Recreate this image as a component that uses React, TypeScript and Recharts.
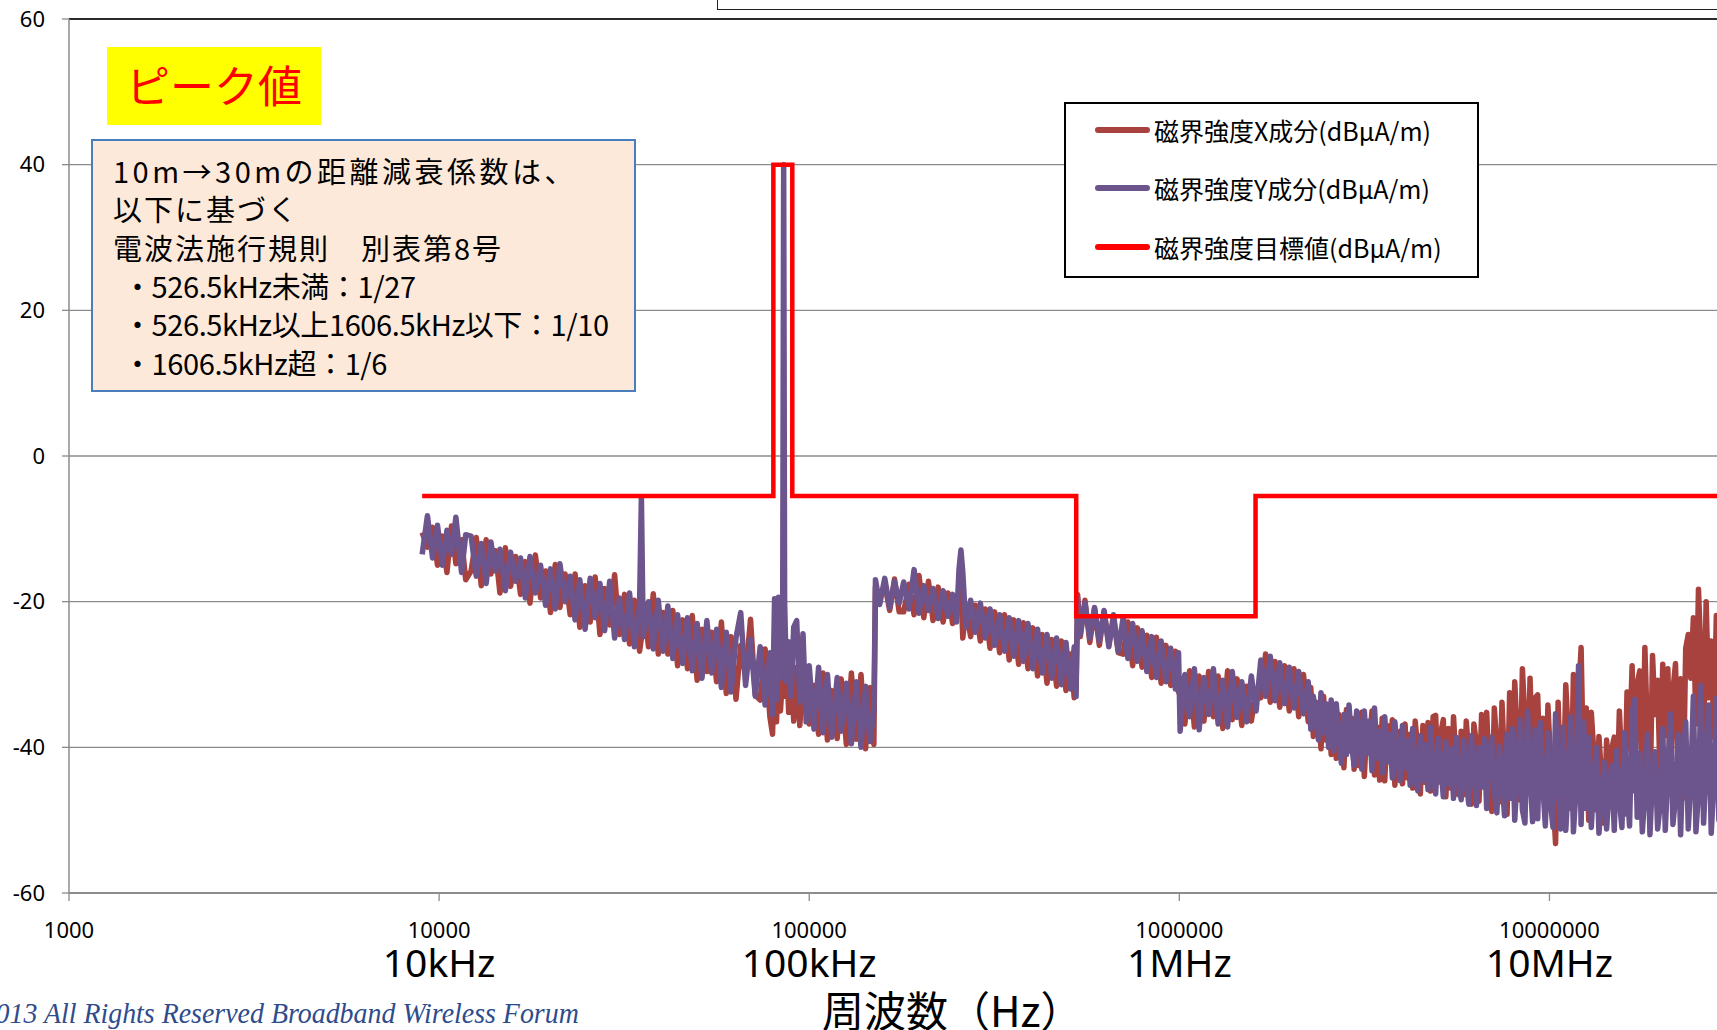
import React from 'react'
import { LineChart, Line, XAxis, YAxis, CartesianGrid, Legend, ReferenceLine } from 'recharts'

// measured frequencies (kHz)
const freqKHz = [
  9.0, 9.3, 9.6, 9.9, 10.2, 10.5, 10.8, 11.1, 11.5, 11.8,
  12.2, 12.6, 13.0, 13.4, 13.8, 14.2, 14.6, 15.1, 15.6, 16.1,
  16.6, 17.1, 17.6, 18.2, 18.8, 19.4, 20.0, 20.6, 21.2, 21.9,
  22.6, 23.3, 24.0, 24.8, 25.6, 26.4, 27.2, 28.0, 28.9, 29.8,
  30.7, 31.7, 32.7, 33.7, 34.8, 35.2, 35.6, 36.8, 37.9, 39.1,
  40.3, 41.5, 42.8, 44.1, 45.5, 46.9, 48.3, 49.8, 51.3, 52.9,
  54.5, 56.2, 57.9, 59.7, 61.5, 63.4, 65.3, 67.3, 69.4, 71.5,
  73.7, 76.0, 78.3, 79.6, 80.6, 81.6, 82.6, 83.6, 84.8, 85.3,
  85.8, 86.8, 88.0, 89.3, 90.8, 92.5, 94.3, 96.2, 98.1, 100,
  103, 106, 109, 112, 115, 119, 122, 126, 130, 134,
  138, 142, 146, 149.5, 151, 155, 160, 165, 170, 175,
  180, 186, 192, 198, 204, 210, 216, 223, 230, 237,
  244, 250, 254, 257, 260, 265, 273, 281, 290, 299,
  308, 317, 327, 337, 347, 357, 368, 379, 390, 402,
  414, 426, 439, 452, 466, 480, 494, 508, 520, 526,
  531, 540, 556, 573, 590, 608, 626, 645, 664, 684,
  705, 726, 748, 770, 793, 817, 842, 867, 893, 920,
  948, 976, 995, 1005, 1035, 1066, 1098, 1131, 1165, 1200,
  1236, 1273, 1311, 1350, 1390, 1432, 1475, 1519, 1565, 1612,
  1660, 1710, 1761, 1814, 1868, 1924, 1982, 2041, 2102, 2165,
  2230, 2266, 2302, 2339, 2376, 2414, 2453, 2492, 2532, 2572,
  2613, 2655, 2697, 2740, 2784, 2829, 2874, 2920, 2967, 3014,
  3062, 3111, 3161, 3212, 3263, 3315, 3368, 3422, 3477, 3533,
  3589, 3646, 3704, 3763, 3823, 3884, 3946, 4009, 4073, 4138,
  4204, 4271, 4339, 4408, 4479, 4551, 4624, 4698, 4773, 4849,
  4927, 5006, 5086, 5167, 5250, 5334, 5419, 5506, 5594, 5683,
  5774, 5866, 5960, 6055, 6152, 6250, 6350, 6452, 6555, 6660,
  6767, 6875, 6985, 7097, 7211, 7326, 7443, 7562, 7683, 7806,
  7931, 8058, 8187, 8318, 8451, 8586, 8723, 8863, 9005, 9149,
  9295, 9444, 9595, 9749, 9905, 10063, 10224, 10388, 10554, 10723,
  10895, 11069, 11246, 11426, 11609, 11795, 11984, 12176, 12371, 12569,
  12770, 12974, 13182, 13393, 13607, 13825, 14046, 14271, 14499, 14731,
  14967, 15206, 15449, 15696, 15947, 16202, 16461, 16724, 16992, 17264,
  17540, 17821, 18106, 18396, 18690, 18989, 19293, 19602, 19916, 20235,
  20559, 20888, 21222, 21562, 21907, 22258, 22614, 22976, 23344, 23718,
  24097, 24483, 24875, 25273, 25677, 26088, 26505, 26929, 27360, 27798,
  28243, 28695, 29154,
]

// X component (dBuA/m)
const fieldX = [
  -10.5, -12.5, -9.8, -15, -11, -16, -9.6, -14.8, -11.5, -17,
  -15.8, -11.2, -17.8, -11.5, -16.2, -13, -18.8, -12.6, -17.9, -13.8,
  -19, -14.5, -20.2, -13.6, -19.5, -15.8, -21.5, -14.9, -20.8, -16.2,
  -21.8, -16.2, -23.5, -17.8, -22.8, -16.6, -24.5, -18.2, -23.2, -16.3,
  -24.5, -19, -25.8, -19.8, -26.8, -25, -20.2, -26.2, -18.9, -27.2,
  -21.5, -27.2, -21.2, -28.8, -22.5, -29.2, -21.9, -30.8, -23.8, -29.6,
  -24.2, -31, -22.8, -32.6, -24.8, -33.4, -26, -30.2, -22.4, -32.8,
  -33.5, -26.5, -35.8, -38.2, -29, -36.5, -28.2, -35, -30, -29,
  -33, -27.5, -35.2, -28.2, -36.4, -29, -37, -30.5, -34.2, -36.8,
  -31.5, -38.2, -29.8, -39, -32.2, -38.8, -30.6, -39.6, -29.8, -38.9,
  -30, -40.2, -31.8, -39.6, -18, -19.6, -17.6, -21.2, -16.9, -21.4,
  -21.4, -17.6, -21.8, -16.4, -22.2, -17.2, -22.6, -18, -22.8, -18.8,
  -23, -19.5, -20, -18.6, -25, -21, -24.8, -20.5, -25.4, -21,
  -26.4, -21.4, -27, -21.8, -28, -22.5, -28.6, -22.9, -29.2, -23.6,
  -30.2, -24.5, -31.2, -25.2, -31.6, -25.4, -32.2, -27.2, -33.2, -32,
  -19, -24.8, -19.8, -25.6, -21, -26, -21.4, -25.8, -22.4, -27,
  -27.2, -22.8, -28.8, -23.6, -29, -24.6, -30.4, -24.9, -31.2, -26,
  -31.5, -26.8, -32.4, -30.5, -36.8, -29.5, -37.2, -30.2, -36.4, -29.6,
  -35.8, -30.2, -37.4, -29.5, -36.2, -30.6, -37, -31.6, -36.4, -32.2,
  -33.2, -27.2, -33.8, -28.2, -34.5, -28.8, -35, -29.2, -35.8, -30,
  -36.5, -31.8, -38.5, -33.8, -35, -40.2, -33, -39, -35.2, -41,
  -34.5, -41.5, -35.5, -37, -42.8, -34.8, -40.5, -36, -43, -35.4,
  -42.5, -35.2, -44, -36.8, -39.5, -35, -43.8, -37.2, -44.5, -36,
  -44.6, -37, -41.8, -36.2, -45.2, -38.6, -37.8, -45, -36.8, -44.2,
  -38.2, -45.6, -36.4, -40.5, -46.4, -37, -44.8, -36.6, -46, -35.8,
  -35.6, -44.8, -38, -36.2, -46.8, -37.4, -45.6, -35.8, -42.5, -46.5,
  -37.8, -46.5, -36.4, -41, -47.8, -36.8, -39.5, -47.4, -35.5, -44,
  -35.2, -43.6, -48.8, -34.6, -40, -47.5, -33.8, -42.2, -49.2, -32.5,
  -44.8, -31, -38.6, -47.2, -29.2, -36.4, -46, -30.5, -41.8, -33.2,
  -32.8, -44.6, -36, -48, -34.2, -41.5, -46.8, -53.2, -33.8, -45,
  -46.6, -31.4, -38.5, -48.4, -30, -43.6, -33.5, -26.3, -44, -34.6,
  -50, -35.2, -40.8, -48.6, -38.5, -44, -50.4, -39, -46.2, -40.2,
  -38.6, -48, -35, -42.6, -49.2, -32.4, -40.2, -28.8, -46, -31.2,
  -29.5, -44.6, -26.3, -38, -47.8, -27.4, -35.5, -30.8, -45, -28.6,
  -38.4, -29.2, -46, -32.2, -28.5, -43.4, -30.6, -47, -26.4, -24.5,
  -30.5, -22.2, -36.8, -18.3, -27.6, -40, -20, -33.2, -25.4, -38.6,
  -21.9, -34, -26,
]

// Y component (dBuA/m)
const fieldY = [
  -13.5, -8.2, -14, -9.5, -15, -10.2, -13.5, -8.4, -16, -10.8,
  -11, -16.5, -12, -17.5, -11.8, -15.8, -12.8, -18.5, -13.2, -17.2,
  -14, -19.5, -13.8, -18.8, -15, -20.5, -15.5, -21, -14.8, -20,
  -16.5, -22.5, -17, -23.8, -16.8, -22.2, -17.5, -24, -17.2, -25,
  -19.5, -25.2, -18.8, -26.2, -20.5, -5.6, -24.8, -20, -26.5, -19.8,
  -26.8, -20.6, -27.8, -21.8, -28.5, -22.2, -29.5, -23, -30.5, -22.6,
  -29.8, -23.8, -31.8, -24.2, -32.4, -25, -21.5, -31.5, -25.2, -33,
  -26.2, -34.2, -27, -35.5, -19.6, -33.5, -19.4, -30.5, -20, 40,
  -20, -31, -25.5, -33, -23.5, -22.6, -33.8, -24.4, -36.5, -28.8,
  -37.5, -29, -38, -30, -38.6, -30.4, -37.8, -31.2, -39.5, -31,
  -40, -31.6, -39.2, -35, -17, -20.4, -16.8, -20.8, -17.2, -20.2,
  -17.3, -21, -15.6, -21.6, -17.8, -21.2, -18.2, -22.3, -18.5, -22,
  -19, -22.8, -15.5, -12.9, -16, -23.5, -19.8, -24.2, -20.2, -25,
  -21, -26, -21.8, -26.8, -22.2, -27.5, -22.6, -28.2, -23, -29.2,
  -23.8, -29.8, -24.5, -30.5, -25, -31.4, -25.6, -32, -26.2, -33,
  -19.5, -24.5, -20.2, -25, -20.8, -25.4, -21.2, -26.2, -21.8, -26.8,
  -22.2, -27.8, -23, -28.2, -24, -29.6, -24.8, -30.4, -25.4, -31,
  -26.4, -32, -27, -37.8, -30, -35.8, -29.2, -37.6, -30.4, -35.5,
  -29.2, -36.8, -30.8, -37.2, -29.6, -35.9, -31, -36.5, -30.2, -35,
  -28, -33, -27.5, -33.6, -28.4, -34, -29, -34.6, -29.6, -35.4,
  -31, -37.5, -33, -36, -39, -32.5, -38, -34, -40, -33.5,
  -40.5, -34, -38.5, -42.2, -35.5, -41, -34.2, -39.5, -42.5, -35,
  -37.5, -43, -35, -40.8, -36.4, -43.2, -34.6, -41.5, -37.8, -43.5,
  -35.8, -42, -38.2, -44.2, -36.5, -41.2, -44.6, -37, -42.8, -39,
  -45.2, -37.4, -43, -46, -38.4, -44.5, -39.6, -45.8, -37.2, -43.6,
  -46.4, -38.8, -42.4, -46.8, -39.2, -45, -40.2, -47, -38.6, -44,
  -47.2, -39, -44.6, -47.8, -38.4, -43.2, -48, -40, -45.5, -38.8,
  -48.4, -41.2, -38.6, -46.2, -49, -39.8, -44.4, -49.4, -38.2, -47,
  -37.4, -50, -43.5, -36.2, -48.6, -50.4, -35, -44, -50.2, -37.6,
  -49.8, -36.6, -45.2, -50.8, -38, -47.6, -51, -35.4, -43, -51.2,
  -37.2, -51.4, -44.8, -35.8, -51.6, -46, -28.8, -50.6, -36.5, -48.4,
  -38.6, -51, -44.2, -40, -51.8, -47, -42, -51.2, -45.6, -42.5,
  -51.4, -40.4, -47.2, -51, -38, -45.4, -50.8, -35.2, -33.4, -49.6,
  -40.8, -51.6, -46.4, -38.2, -52, -44, -40.6, -51.2, -47.8, -37.4,
  -51.4, -43.2, -35.4, -50.6, -46.8, -38.2, -52, -41, -36.5, -51.2,
  -44.5, -33, -51.6, -46.2, -31.5, -50.4, -42.8, -34.2, -51.8, -45,
  -33.3, -50, -40,
]

// target limit (step line)
const targetKHz = [9, 80, 80, 90, 90, 526.5, 526.5, 1606.5, 1606.5, 30000]
const targetLevel = [-5.5, -5.5, 40, 40, -5.5, -5.5, -22, -22, -5.5, -5.5]

const freqTicks = [1000, 10000, 100000, 1000000, 10000000]
const freqUnitLabels = ['', '10kHz', '100kHz', '1MHz', '10MHz']
const levelTicks = [-60, -40, -20, 0, 20, 40, 60]

const seriesNames = ['磁界強度X成分(dBμA/m)', '磁界強度Y成分(dBμA/m)', '磁界強度目標値(dBμA/m)']

const noteHeader = ['10m→30mの距離減衰係数は、', '以下に基づく', '電波法施行規則　別表第8号']
const noteBullets = ['・526.5kHz未満：1/27', '・526.5kHz以上1606.5kHz以下：1/10', '・1606.5kHz超：1/6']

const noiseRows = freqKHz.map((f, i) => ({ f: f * 1000, x: fieldX[i], y: fieldY[i] }))
const targetRows = targetKHz.map((f, i) => ({ f: f * 1000, target: targetLevel[i] }))

const COLOR_X = '#A8423F'
const COLOR_Y = '#6C548D'
const COLOR_T = '#FF0000'
const GRID = '#8C8C8C'
const JP = "'Noto Sans CJK JP', 'Noto Sans', sans-serif"

const FreqTick = (props: any) => {
  const { x, y, payload } = props
  const unit = freqUnitLabels[freqTicks.indexOf(payload.value)]
  return (
    <g>
      <text x={x} y={y + 37} textAnchor="middle" fontSize={22} fill="#000" fontFamily="'Noto Sans', sans-serif">
        {payload.value}
      </text>
      {unit ? (
        <text x={x} y={y + 76} textAnchor="middle" fontSize={39} fill="#000" fontFamily="'Noto Sans', sans-serif">
          {unit}
        </text>
      ) : null}
    </g>
  )
}

const LegendBox = (props: any) => {
  const { payload } = props
  return (
    <div style={{ width: 415, height: 176, border: '2px solid #000', background: '#fff', boxSizing: 'border-box', position: 'relative' }}>
      {(payload || []).map((entry: any, i: number) => (
        <div key={i} style={{ position: 'absolute', left: 0, top: 26 + i * 58.3 - 20, height: 40, display: 'flex', alignItems: 'center' }}>
          <div style={{ marginLeft: 29, width: 55, height: 6, borderRadius: 3, background: entry.color }} />
          <span style={{ marginLeft: 4, fontSize: 25, fontFamily: JP, color: '#000', whiteSpace: 'nowrap' }}>{entry.value}</span>
        </div>
      ))}
    </div>
  )
}

const lineStyle = (cy: number): React.CSSProperties => ({
  position: 'absolute',
  top: cy - 20,
  height: 40,
  lineHeight: '40px',
  whiteSpace: 'nowrap',
})

const headerSpacing = [3.5, 2, 2]

export default function App() {
  return (
    <div style={{ position: 'absolute', left: 0, top: 0, width: 1717, height: 1030, overflow: 'hidden', background: '#fff', fontFamily: JP }}>
      <LineChart width={1717} height={1030} data={noiseRows} margin={{ top: 19, right: 0, bottom: 0, left: 0 }}>
        <CartesianGrid horizontal vertical={false} stroke={GRID} strokeWidth={1.3} />
        <XAxis
          dataKey="f"
          type="number"
          scale="log"
          domain={[1000, 28360000]}
          allowDataOverflow
          ticks={freqTicks}
          interval={0}
          height={137}
          tickSize={8}
          tickMargin={0}
          axisLine={{ stroke: GRID, strokeWidth: 2.2 }}
          tickLine={{ stroke: GRID, strokeWidth: 1.3 }}
          tick={<FreqTick />}
        />
        <YAxis
          type="number"
          domain={[-60, 60]}
          ticks={levelTicks}
          interval={0}
          width={69}
          tickSize={7}
          tickMargin={17}
          axisLine={{ stroke: GRID, strokeWidth: 1.5 }}
          tickLine={{ stroke: GRID, strokeWidth: 1.3 }}
          tick={{ fontSize: 22, fill: '#000', fontFamily: "'Noto Sans', sans-serif" }}
        />
        <ReferenceLine y={60} stroke="#000" strokeWidth={1.6} />
        <Line
          name={seriesNames[0]}
          dataKey="x"
          stroke={COLOR_X}
          strokeWidth={5.5}
          strokeLinejoin="round"
          dot={false}
          activeDot={false}
          isAnimationActive={false}
        />
        <Line
          name={seriesNames[1]}
          dataKey="y"
          stroke={COLOR_Y}
          strokeWidth={5.5}
          strokeLinejoin="round"
          dot={false}
          activeDot={false}
          isAnimationActive={false}
        />
        <Line
          name={seriesNames[2]}
          data={targetRows}
          dataKey="target"
          stroke={COLOR_T}
          strokeWidth={4.5}
          dot={false}
          activeDot={false}
          isAnimationActive={false}
        />
        <Legend
          layout="vertical"
          align="center"
          verticalAlign="middle"
          content={<LegendBox />}
          wrapperStyle={{ left: 1064, top: 102, width: 415, height: 176 }}
        />
      </LineChart>

      {/* cropped box at top edge */}
      <div style={{ position: 'absolute', left: 717, top: -10, width: 1100, height: 20, border: '1.5px solid #222', boxSizing: 'border-box', background: '#fff' }} />

      {/* peak label */}
      <div style={{ position: 'absolute', left: 107, top: 47, width: 214, height: 78, background: '#FFFF00' }}>
        <div style={{ position: 'absolute', left: 19, top: 0, lineHeight: '74px', fontSize: 44, color: '#FF0000', whiteSpace: 'nowrap' }}>ピーク値</div>
      </div>

      {/* note box */}
      <div style={{ position: 'absolute', left: 91, top: 139, width: 545, height: 253, background: '#FDE9D9', border: '2px solid #4A7EBB', boxSizing: 'border-box' }} />
      {noteHeader.map((t, i) => (
        <div key={t} style={{ ...lineStyle(170 + i * 38.4), left: 113, fontSize: 29, letterSpacing: headerSpacing[i], color: '#000' }}>{t}</div>
      ))}
      {noteBullets.map((t, i) => (
        <div key={t} style={{ ...lineStyle(285 + i * 38.4), left: 123, fontSize: 29, letterSpacing: -0.4, color: '#000' }}>{t}</div>
      ))}

      {/* axis title */}
      <div style={{ position: 'absolute', left: 822, top: 984, height: 50, lineHeight: '50px', fontSize: 42, color: '#000', whiteSpace: 'nowrap' }}>周波数（Hz）</div>

      {/* footer */}
      <div style={{ position: 'absolute', right: 1717 - 579, top: 998, lineHeight: '30px', fontSize: 30, fontStyle: 'italic', fontFamily: "'Liberation Serif', serif", color: '#2E4C8C', whiteSpace: 'nowrap', transform: 'scaleX(0.93)', transformOrigin: 'right center' }}>
        Copyright(C)2013 All Rights Reserved Broadband Wireless Forum
      </div>
    </div>
  )
}
